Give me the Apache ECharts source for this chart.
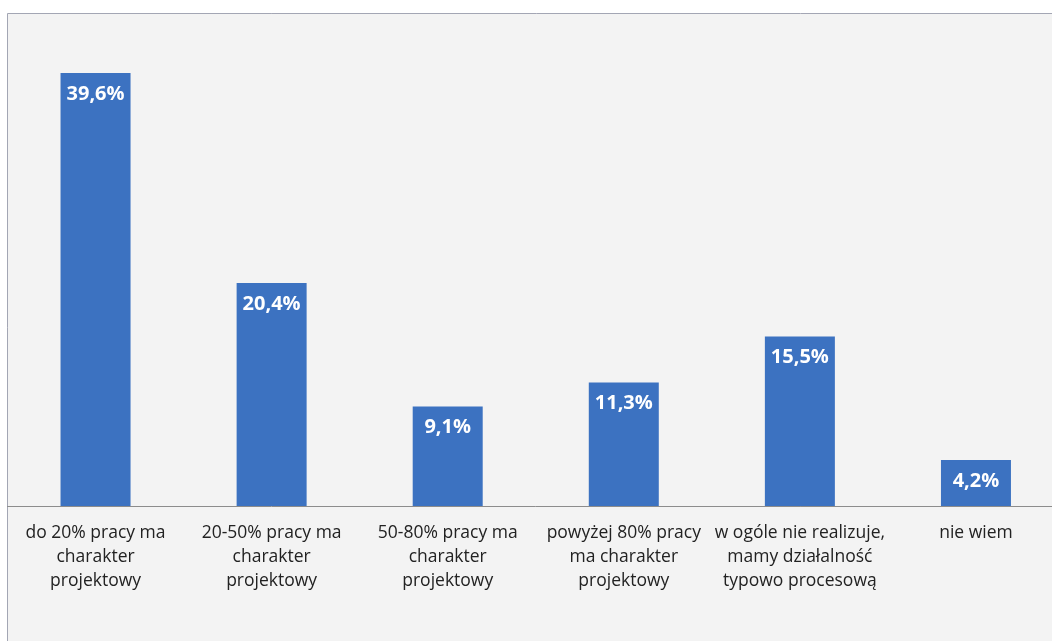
<!DOCTYPE html>
<html>
<head>
<meta charset="utf-8">
<script src="https://cdn.jsdelivr.net/npm/echarts@6/dist/echarts.min.js"></script>
<style>
  html, body { margin: 0; padding: 0; background: #ffffff; overflow: hidden; }
  #chart { width: 1064px; height: 641px; }
</style>
</head>
<body>
<div id="chart"></div>
<script>
// Share of project-type work in organisations (%)
const categories = [
  'do 20% pracy ma\ncharakter\nprojektowy',
  '20-50% pracy ma\ncharakter\nprojektowy',
  '50-80% pracy ma\ncharakter\nprojektowy',
  'powyżej 80% pracy\nma charakter\nprojektowy',
  'w ogóle nie realizuje,\nmamy działalność\ntypowo procesową',
  'nie wiem'
];
const values = [39.6, 20.4, 9.1, 11.3, 15.5, 4.2];

const chart = echarts.init(document.getElementById('chart'), null, { renderer: 'canvas' });

chart.setOption({
  backgroundColor: '#ffffff',
  animation: false,
  graphic: [
    {
      type: 'rect',
      z: -10,
      shape: { x: 7.5, y: 13.5, width: 1070, height: 640 },
      style: { fill: '#f3f3f3', stroke: '#a3a6b4', lineWidth: 1 }
    }
  ],
  grid: { left: 7.5, right: 0, top: 14, bottom: 135, containLabel: false },
  xAxis: {
    type: 'category',
    data: categories,
    axisTick: { show: false },
    axisLine: { lineStyle: { color: '#8c8c8c', width: 1 } },
    axisLabel: {
      interval: 0,
      color: '#222222',
      fontFamily: 'Open Sans',
      fontSize: 17.5,
      lineHeight: 24,
      margin: 15
    }
  },
  yAxis: {
    type: 'value',
    min: 0,
    max: 45,
    show: false,
    splitLine: { show: false }
  },
  series: [{
    type: 'bar',
    data: values,
    barWidth: 70,
    itemStyle: { color: '#3c72c1' },
    label: {
      show: true,
      position: 'insideTop',
      distance: 11,
      color: '#ffffff',
      fontFamily: 'Open Sans',
      fontWeight: 'bold',
      fontSize: 20,
      formatter: p => p.value.toFixed(1).replace('.', ',') + '%'
    }
  }]
});
</script>
</body>
</html>
